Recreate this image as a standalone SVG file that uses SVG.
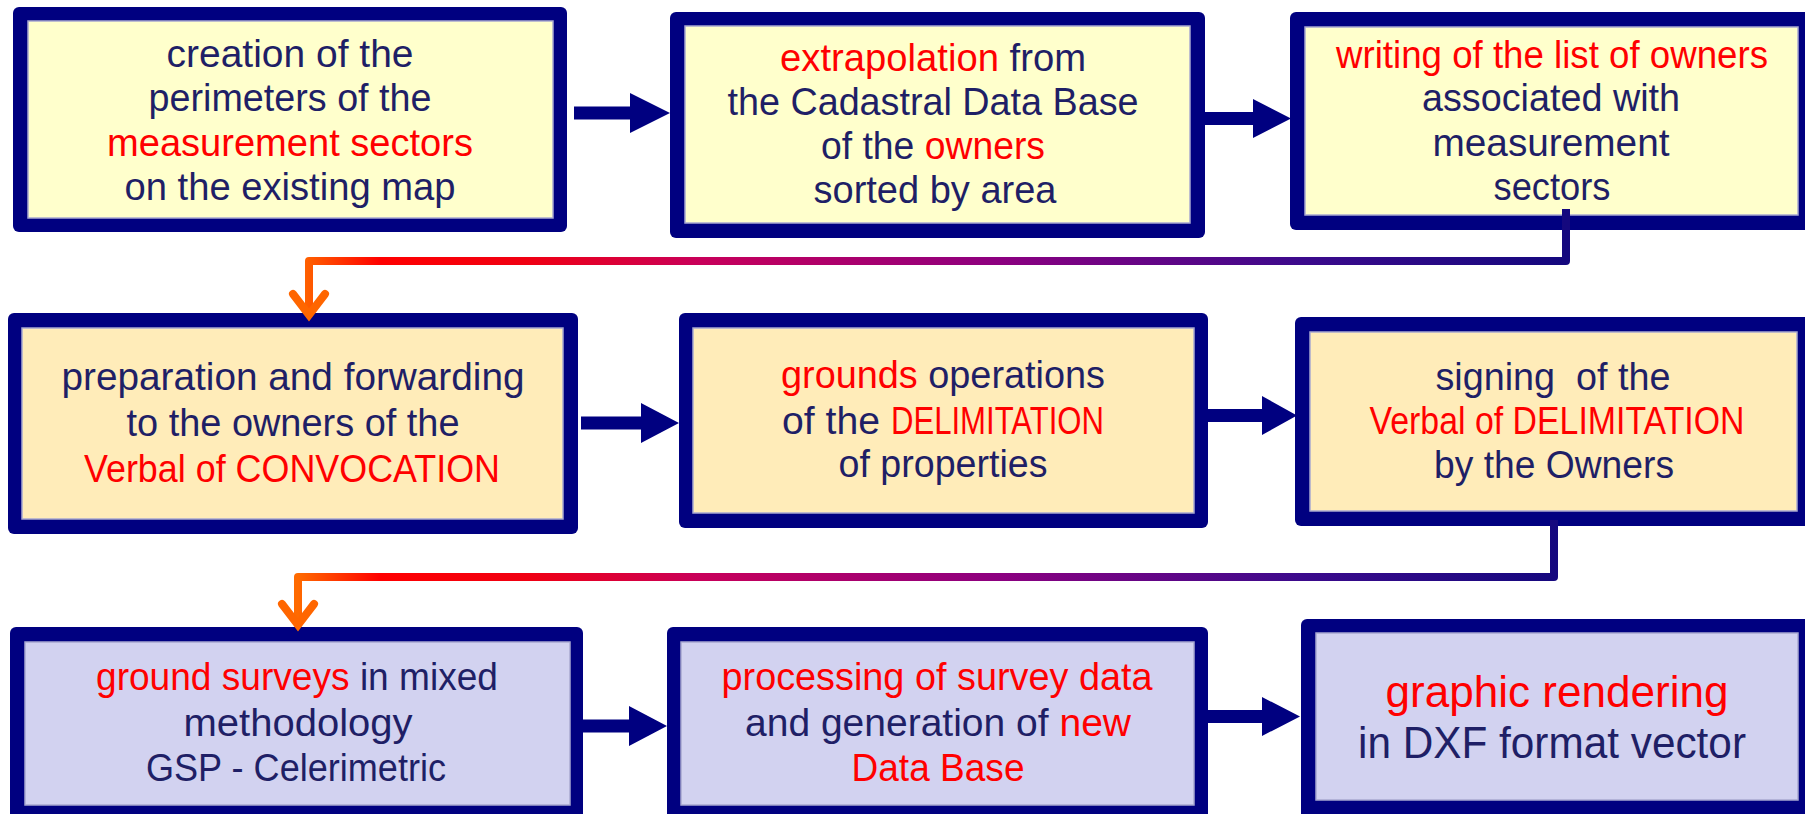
<svg xmlns="http://www.w3.org/2000/svg" width="1805" height="814" viewBox="0 0 1805 814">
<style>
.bd{fill:#000080}
.f1{fill:#ffffcc;stroke:#a8a8d0;stroke-width:1.5}
.f2{fill:#ffecb9;stroke:#a8a8d0;stroke-width:1.5}
.f3{fill:#d2d2f0;stroke:#a8a8d0;stroke-width:1.5}
text{font-family:"Liberation Sans",Arial,sans-serif;font-size:38px;fill:#1f1f66;text-anchor:middle}
.st{text-anchor:start}
.r{fill:#ff0000}
.big{font-size:44px}
.arr{fill:#000080}
.conn{fill:none;stroke:url(#g);stroke-width:8;stroke-linejoin:round}
.head{fill:none;stroke:#ff6600;stroke-width:8;stroke-linecap:round;stroke-linejoin:miter}
</style>
<defs>
<linearGradient id="g" gradientUnits="userSpaceOnUse" x1="298" y1="0" x2="1566" y2="0">
<stop offset="0" stop-color="#ff6a00"/>
<stop offset="0.065" stop-color="#ff0000"/>
<stop offset="0.18" stop-color="#f00012"/>
<stop offset="0.317" stop-color="#c8005a"/>
<stop offset="0.553" stop-color="#8c0080"/>
<stop offset="0.79" stop-color="#3c0a8c"/>
<stop offset="1" stop-color="#14087e"/>
</linearGradient>
</defs>
<rect width="1805" height="814" fill="#ffffff"/>

<g id="node1">
<rect class="bd" x="13" y="7" width="554" height="225" rx="6"/>
<rect class="f1" x="28" y="21" width="525" height="197"/>
<text x="290" y="66.5" textLength="247" lengthAdjust="spacingAndGlyphs">creation of the</text>
<text x="290" y="111" textLength="283" lengthAdjust="spacingAndGlyphs">perimeters of the</text>
<text x="290" y="155.5" textLength="366" lengthAdjust="spacingAndGlyphs" class="r">measurement sectors</text>
<text x="290" y="200" textLength="331" lengthAdjust="spacingAndGlyphs">on the existing map</text>
</g>

<g id="node2">
<rect class="bd" x="670" y="12" width="535" height="226" rx="6"/>
<rect class="f1" x="685" y="26" width="505" height="197"/>
<text x="933" y="71" textLength="306" lengthAdjust="spacingAndGlyphs"><tspan class="r">extrapolation</tspan> from</text>
<text x="933" y="115" textLength="411" lengthAdjust="spacingAndGlyphs">the Cadastral Data Base</text>
<text x="933" y="159" textLength="224" lengthAdjust="spacingAndGlyphs">of the <tspan class="r">owners</tspan></text>
<text x="935" y="203" textLength="243" lengthAdjust="spacingAndGlyphs">sorted by area</text>
</g>

<g id="node3">
<rect class="bd" x="1290" y="12" width="530" height="218" rx="6"/>
<rect class="f1" x="1305" y="27" width="493" height="188"/>
<text x="1552" y="68" textLength="432" lengthAdjust="spacingAndGlyphs" class="r">writing of the list of owners</text>
<text x="1551" y="111" textLength="258" lengthAdjust="spacingAndGlyphs">associated with</text>
<text x="1551" y="156" textLength="237" lengthAdjust="spacingAndGlyphs">measurement</text>
<text x="1552" y="200" textLength="117" lengthAdjust="spacingAndGlyphs">sectors</text>
</g>

<g id="node4">
<rect class="bd" x="8" y="313" width="570" height="221" rx="6"/>
<rect class="f2" x="22" y="328" width="541" height="191"/>
<text x="293" y="390" textLength="463" lengthAdjust="spacingAndGlyphs">preparation and forwarding</text>
<text x="293" y="436" textLength="333" lengthAdjust="spacingAndGlyphs">to the owners of the</text>
<text x="292" y="482" textLength="416" lengthAdjust="spacingAndGlyphs" class="r">Verbal of CONVOCATION</text>
</g>

<g id="node5">
<rect class="bd" x="679" y="313" width="529" height="215" rx="6"/>
<rect class="f2" x="693" y="328" width="501" height="185"/>
<text x="943" y="388" textLength="324" lengthAdjust="spacingAndGlyphs"><tspan class="r">grounds</tspan> operations</text>
<text x="782" y="434" textLength="98" lengthAdjust="spacingAndGlyphs" class="st">of the</text>
<text x="891" y="434" textLength="213" lengthAdjust="spacingAndGlyphs" class="st r">DELIMITATION</text>
<text x="943" y="477" textLength="209" lengthAdjust="spacingAndGlyphs">of properties</text>
</g>

<g id="node6">
<rect class="bd" x="1295" y="317" width="525" height="209" rx="6"/>
<rect class="f2" x="1310" y="332" width="487" height="179"/>
<text x="1553" y="390" textLength="235" lengthAdjust="spacingAndGlyphs" xml:space="preserve">signing  of the</text>
<text x="1557" y="434" textLength="375" lengthAdjust="spacingAndGlyphs" class="r">Verbal of DELIMITATION</text>
<text x="1554" y="478" textLength="240" lengthAdjust="spacingAndGlyphs">by the Owners</text>
</g>

<g id="node7">
<rect class="bd" x="10" y="627" width="573" height="200" rx="6"/>
<rect class="f3" x="25" y="642" width="545" height="163"/>
<text x="297" y="690" textLength="402" lengthAdjust="spacingAndGlyphs"><tspan class="r">ground surveys</tspan> in mixed</text>
<text x="298" y="736" textLength="229" lengthAdjust="spacingAndGlyphs">methodology</text>
<text x="296" y="781" textLength="300" lengthAdjust="spacingAndGlyphs">GSP - Celerimetric</text>
</g>

<g id="node8">
<rect class="bd" x="667" y="627" width="541" height="200" rx="6"/>
<rect class="f3" x="681" y="642" width="513" height="163"/>
<text x="937" y="690" textLength="431" lengthAdjust="spacingAndGlyphs" class="r">processing of survey data</text>
<text x="938" y="736" textLength="386" lengthAdjust="spacingAndGlyphs">and generation of <tspan class="r">new</tspan></text>
<text x="938" y="781" textLength="173" lengthAdjust="spacingAndGlyphs" class="r">Data Base</text>
</g>

<g id="node9">
<rect class="bd" x="1301" y="619" width="520" height="200" rx="6"/>
<rect class="f3" x="1316" y="633" width="482" height="167"/>
<text x="1557" y="707" textLength="343" lengthAdjust="spacingAndGlyphs" class="r big">graphic rendering</text>
<text x="1552" y="758" textLength="388" lengthAdjust="spacingAndGlyphs" class="big">in DXF format vector</text>
</g>

<g id="connectors">
<polygon class="arr" points="574,106.5 630,106.5 630,93 670,113 630,133 630,119.5 574,119.5"/>
<polygon class="arr" points="1205,112 1253,112 1253,99 1291,118.5 1253,138 1253,125 1205,125"/>
<polygon class="arr" points="581,416.5 641,416.5 641,403 679,423 641,443 641,429.5 581,429.5"/>
<polygon class="arr" points="1208,409 1262,409 1262,396 1297,415.5 1262,435 1262,422 1208,422"/>
<polygon class="arr" points="583,719.5 629,719.5 629,706 667,726 629,746 629,732.5 583,732.5"/>
<polygon class="arr" points="1208,710 1262,710 1262,697 1300,716.5 1262,736 1262,723 1208,723"/>
<path class="conn" d="M1566,209 V261 H309 V316"/>
<path class="head" d="M293,294 L309,315 L325,294"/>
<path class="conn" d="M1554,520 V577 H298 V626"/>
<path class="head" d="M282,604 L298,625 L314,604"/>
</g>
</svg>
